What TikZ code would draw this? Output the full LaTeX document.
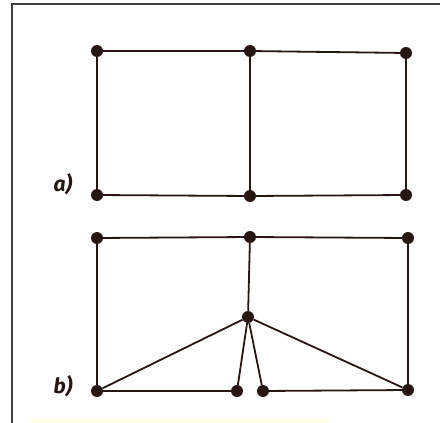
\documentclass[tikz,border=0pt]{standalone}
\usepackage{fontspec}
\setsansfont{Fira Sans}
\usetikzlibrary{positioning}
\definecolor{tinta}{RGB}{40,22,20}

\begin{document}
\begin{tikzpicture}[x=1pt, y=-1pt,
        titik/.style={circle, fill=tinta, inner sep=0pt, minimum size=12pt},
        garis/.style={draw=tinta, line width=1.8pt},
        label/.style={font=\sffamily\itshape\bfseries\fontsize{21}{21}\selectfont, text=tinta}]
        \useasboundingbox (0,0) rectangle (440,423);
        % bingkai
        \draw[line width=1.3pt, black!75] (12,423) -- (12,4) -- (440,4);
        \draw[line width=1.2pt, yellow!15] (30,421) -- (330,421);
        % gambar a)
        \foreach \n/\x/\y in {a1/97/51, a2/250/51, a3/406/53, a4/97/195, a5/250/196, a6/406/195}
        {
            \node[titik] (\n) at (\x,\y) {};
        }
        \draw[garis] (a1) -- (a2) -- (a3) -- (a6) -- (a5) -- (a4) -- (a1);
        \draw[garis] (a2) -- (a5);
        \node[label] (la) at (63,184) {a)};
        % gambar b)
        \foreach \n/\x/\y in {b1/97/238, b2/250/237, b3/408/238, b4/248/317,
            b5/97/391, b6/237/391, b7/263/391, b8/408/390}
        {
            \node[titik] (\n) at (\x,\y) {};
        }
        \draw[garis] (b5) -- (b1) -- (b2) -- (b3) -- (b8) -- (b7);
        \draw[garis] (b5) -- (b6);
        \draw[garis] (b2) -- (b4);
        \foreach \m in {b5, b6, b7, b8}
            \draw[garis] (b4) -- (\m);
        \node[label] (lb) at (63,386) {b)};
    \end{tikzpicture}
\end{document}
